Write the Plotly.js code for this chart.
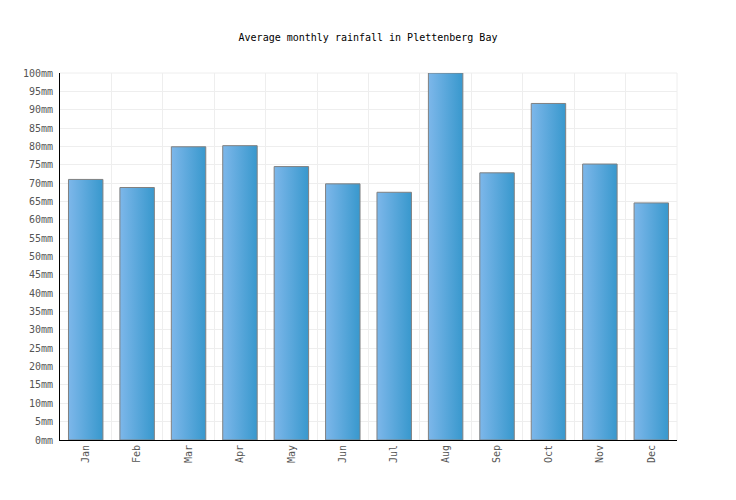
<!DOCTYPE html>
<html>
<head>
<meta charset="utf-8">
<script src="https://cdn.plot.ly/plotly-3.0.1.min.js"></script>
<style>html,body{margin:0;padding:0;background:#fff;}</style>
</head>
<body>
<div id="chart" style="width:736px;height:500px;"></div>
<script>
var months = ["Jan","Feb","Mar","Apr","May","Jun","Jul","Aug","Sep","Oct","Nov","Dec"];
var rainfall = [71.0, 68.8, 79.9, 80.2, 74.5, 69.8, 67.5, 100.0, 72.8, 91.7, 75.2, 64.6];
var tickValues = [0,5,10,15,20,25,30,35,40,45,50,55,60,65,70,75,80,85,90,95,100];
var tickLabels = tickValues.map(function(v){ return v + "mm"; });

var font = "DejaVu Sans Mono, monospace";

var trace = {
  type: "bar",
  x: months,
  y: rainfall,
  marker: { color: "#5aa8dd", line: { color: "#808080", width: 1 } },
  hoverinfo: "x+y"
};

var layout = {
  width: 736,
  height: 500,
  margin: { l: 60, r: 59, t: 73, b: 60, pad: 0 },
  paper_bgcolor: "#ffffff",
  plot_bgcolor: "#ffffff",
  bargap: 0.33,
  showlegend: false,
  title: {
    text: "Average monthly rainfall in Plettenberg Bay",
    font: { family: font, size: 10, color: "#000000" },
    x: 0.5, xanchor: "center", y: 0.926, yanchor: "middle"
  },
  xaxis: {
    type: "category",
    tickson: "boundaries",
    showgrid: true,
    gridcolor: "#eeeeee",
    gridwidth: 1,
    showline: true,
    linecolor: "#000000",
    linewidth: 1,
    ticks: "outside",
    ticklen: 2,
    tickcolor: "rgba(0,0,0,0)",
    tickangle: -90,
    tickfont: { family: font, size: 10, color: "#555555" },
    zeroline: false,
    fixedrange: true
  },
  yaxis: {
    range: [0, 100],
    tickvals: tickValues,
    ticktext: tickLabels,
    showgrid: true,
    gridcolor: "#eeeeee",
    gridwidth: 1,
    showline: true,
    linecolor: "#000000",
    linewidth: 1,
    ticks: "outside",
    ticklen: 4,
    tickcolor: "rgba(0,0,0,0)",
    tickfont: { family: font, size: 10, color: "#555555" },
    zeroline: false,
    fixedrange: true
  },
  shapes: [
    { type: "line", xref: "paper", yref: "paper", x0: 1, x1: 1, y0: 0, y1: 1,
      line: { color: "#eeeeee", width: 1 }, layer: "below" },
    { type: "line", xref: "paper", yref: "paper", x0: 0, x1: 1, y0: 1, y1: 1,
      line: { color: "#eeeeee", width: 1 }, layer: "below" }
  ]
};

Plotly.newPlot("chart", [trace], layout, { displayModeBar: false, staticPlot: true }).then(function(gd){
  var svg = gd.querySelector("svg.main-svg");
  var ns = "http://www.w3.org/2000/svg";
  var defs = svg.querySelector("defs") || svg.insertBefore(document.createElementNS(ns, "defs"), svg.firstChild);
  var grad = document.createElementNS(ns, "linearGradient");
  grad.setAttribute("id", "barGrad");
  grad.setAttribute("x1", "0"); grad.setAttribute("y1", "0");
  grad.setAttribute("x2", "1"); grad.setAttribute("y2", "0");
  var s1 = document.createElementNS(ns, "stop");
  s1.setAttribute("offset", "0"); s1.setAttribute("stop-color", "#7db7ea");
  var s2 = document.createElementNS(ns, "stop");
  s2.setAttribute("offset", "1"); s2.setAttribute("stop-color", "#3898cd");
  grad.appendChild(s1); grad.appendChild(s2);
  defs.appendChild(grad);
  gd.querySelectorAll(".trace.bars .point path").forEach(function(p){
    p.style.fill = "url(#barGrad)";
    p.style.fillOpacity = 1;
  });
});
</script>
</body>
</html>
